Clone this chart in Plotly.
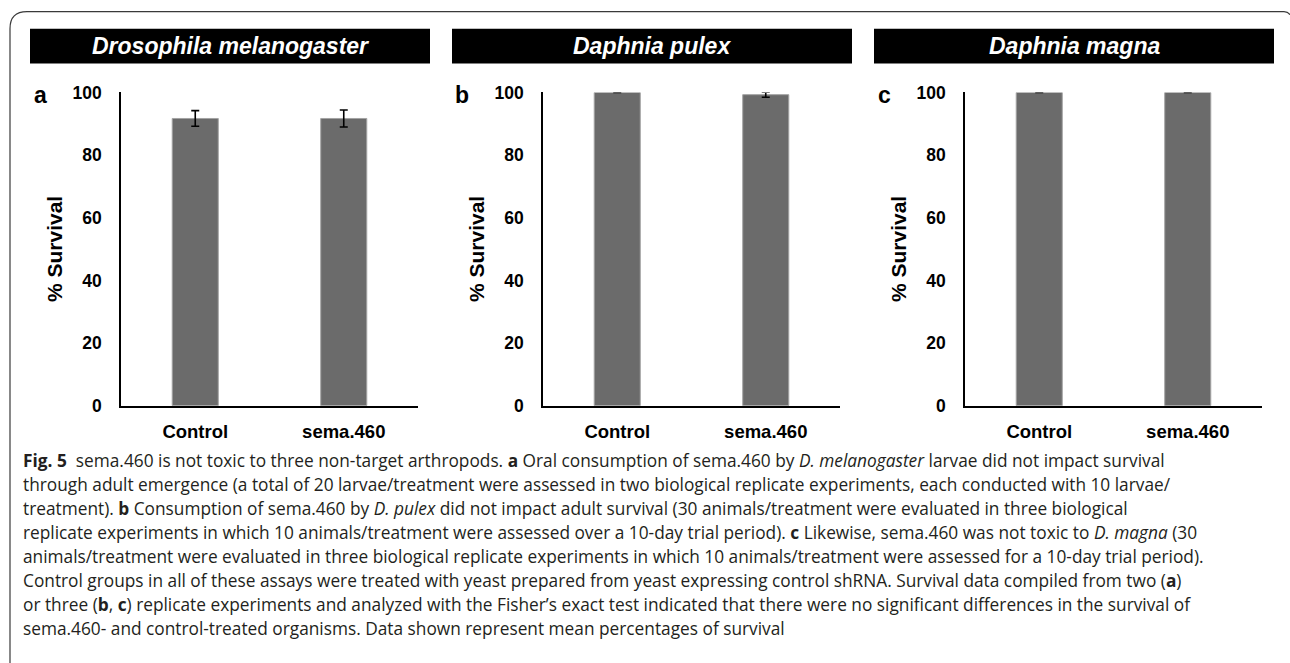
import plotly.graph_objects as go

W, H = 1290, 663

# ---------------- data ----------------
categories = ["Control", "sema.460"]
drosophila_mean = [91.7, 91.7]
drosophila_err = [2.5, 2.7]
pulex_mean = [100.0, 99.3]
pulex_err = [0.0, 0.8]
magna_mean = [100.0, 100.0]
magna_err = [0.0, 0.0]
panel_titles = ["Drosophila melanogaster", "Daphnia pulex", "Daphnia magna"]
panel_letters = ["a", "b", "c"]
y_tick_values = [0, 20, 40, 60, 80, 100]
y_title = "% Survival"

caption_lines = [
    "<b>Fig. 5</b>  sema.460 is not toxic to three non-target arthropods. <b>a</b> Oral consumption of sema.460 by <i>D. melanogaster</i> larvae did not impact survival",
    "through adult emergence (a total of 20 larvae/treatment were assessed in two biological replicate experiments, each conducted with 10 larvae/",
    "treatment). <b>b</b> Consumption of sema.460 by <i>D. pulex</i> did not impact adult survival (30 animals/treatment were evaluated in three biological",
    "replicate experiments in which 10 animals/treatment were assessed over a 10-day trial period). <b>c</b> Likewise, sema.460 was not toxic to <i>D. magna</i> (30",
    "animals/treatment were evaluated in three biological replicate experiments in which 10 animals/treatment were assessed for a 10-day trial period).",
    "Control groups in all of these assays were treated with yeast prepared from yeast expressing control shRNA. Survival data compiled from two (<b>a</b>)",
    "or three (<b>b</b>, <b>c</b>) replicate experiments and analyzed with the Fisher\u2019s exact test indicated that there were no significant differences in the survival of",
    "sema.460- and control-treated organisms. Data shown represent mean percentages of survival",
]

means = [drosophila_mean, pulex_mean, magna_mean]
errs = [drosophila_err, pulex_err, magna_err]

# ---------------- layout helpers (pixel -> paper) ----------------
def px(x):
    return x / W

def py(y):
    yc = (y - 9.3) / 0.9724
    return 1 - yc / H

AXIS_FONT = "Liberation Sans, Arial, sans-serif"
BAR_COLOR = "#6b6b6b"

panel_offset = 422
plot_left0, plot_right0 = 121, 418
plot_top, plot_bottom = 92, 406

fig = go.Figure()
annotations = []
shapes = []

for i in range(3):
    suffix = "" if i == 0 else str(i + 1)
    fig.add_trace(go.Bar(
        x=categories, y=means[i],
        error_y=dict(type="data", array=errs[i], visible=True,
                     color="black", thickness=1.6, width=4),
        marker=dict(color=BAR_COLOR, line=dict(color="#a3a3a3", width=1)),
        xaxis="x" + suffix, yaxis="y" + suffix,
        showlegend=False, hoverinfo="x+y",
    ))
    off = i * panel_offset
    xdom = [px(plot_left0 + off), px(plot_right0 + off)]
    ydom = [py(plot_bottom), py(plot_top)]
    fig.layout["xaxis" + suffix] = dict(
        domain=xdom, anchor="y" + suffix, showline=True, linecolor="black",
        linewidth=1.6, ticks="", showgrid=False, zeroline=False,
        tickfont=dict(family=AXIS_FONT, size=18.5, color="black", weight="bold"),
        ticklabelstandoff=8, fixedrange=True,
    )
    fig.layout["yaxis" + suffix] = dict(
        domain=ydom, anchor="x" + suffix, range=[0, 100], showline=True,
        linecolor="black", linewidth=1.6, ticks="", showgrid=False,
        zeroline=False, tickvals=y_tick_values,
        tickfont=dict(family=AXIS_FONT, size=17.5, color="black", weight="bold"),
        ticklabelstandoff=14, fixedrange=True,
    )
    # title bar
    bx0, bx1 = 30 + off, 430 + off
    shapes.append(dict(type="rect", xref="paper", yref="paper",
                       x0=px(bx0), x1=px(bx1), y0=py(63), y1=py(28),
                       fillcolor="black", line=dict(width=0), layer="below"))
    annotations.append(dict(
        text="<b><i>" + panel_titles[i] + "</i></b>", xref="paper", yref="paper",
        x=px((bx0 + bx1) / 2), y=py(45.5), xanchor="center", yanchor="middle",
        showarrow=False, font=dict(family=AXIS_FONT, size=23, color="white")))
    # panel letter
    annotations.append(dict(
        text="<b>" + panel_letters[i] + "</b>", xref="paper", yref="paper",
        x=px(40 + off), y=py(95), xanchor="center", yanchor="middle",
        showarrow=False, font=dict(family=AXIS_FONT, size=23, color="black")))
    # y-axis title
    annotations.append(dict(
        text="<b>" + y_title + "</b>", xref="paper", yref="paper",
        x=px(54 + off), y=py(249), xanchor="center", yanchor="middle",
        textangle=-90, showarrow=False,
        font=dict(family=AXIS_FONT, size=21, color="black")))

# caption
for k, line in enumerate(caption_lines):
    annotations.append(dict(
        text=line, xref="paper", yref="paper", x=px(21), y=py(461 + k * 24.0),
        xanchor="left", yanchor="middle", showarrow=False, align="left",
        font=dict(family="Open Sans, sans-serif", size=17.3, color="#231f20")))

# outer rounded border
border_path = "M {:.5f},{:.5f} L {:.5f},{:.5f} Q {:.5f},{:.5f} {:.5f},{:.5f} L {:.5f},{:.5f} Q {:.5f},{:.5f} {:.5f},{:.5f}".format(
    px(10), py(670), px(10), py(28), px(10), py(11), px(27), py(11),
    px(1284), py(11), px(1288), py(11), px(1290), py(14))
shapes.append(dict(type="path", xref="paper", yref="paper", path=border_path,
                   line=dict(color="#3a3a3a", width=1.2)))

fig.update_layout(
    width=W, height=H, margin=dict(l=0, r=0, t=0, b=0),
    paper_bgcolor="white", plot_bgcolor="white",
    bargap=0.69, annotations=annotations, shapes=shapes,
)

post = ("document.body.style.margin='0';document.body.style.overflow='hidden';"
        "var d=document.getElementById('{plot_id}');d.style.position='fixed';"
        "d.style.left='0px';d.style.top='0px';")
fig.write_html("out.html", config={"displayModeBar": False}, post_script=post)
